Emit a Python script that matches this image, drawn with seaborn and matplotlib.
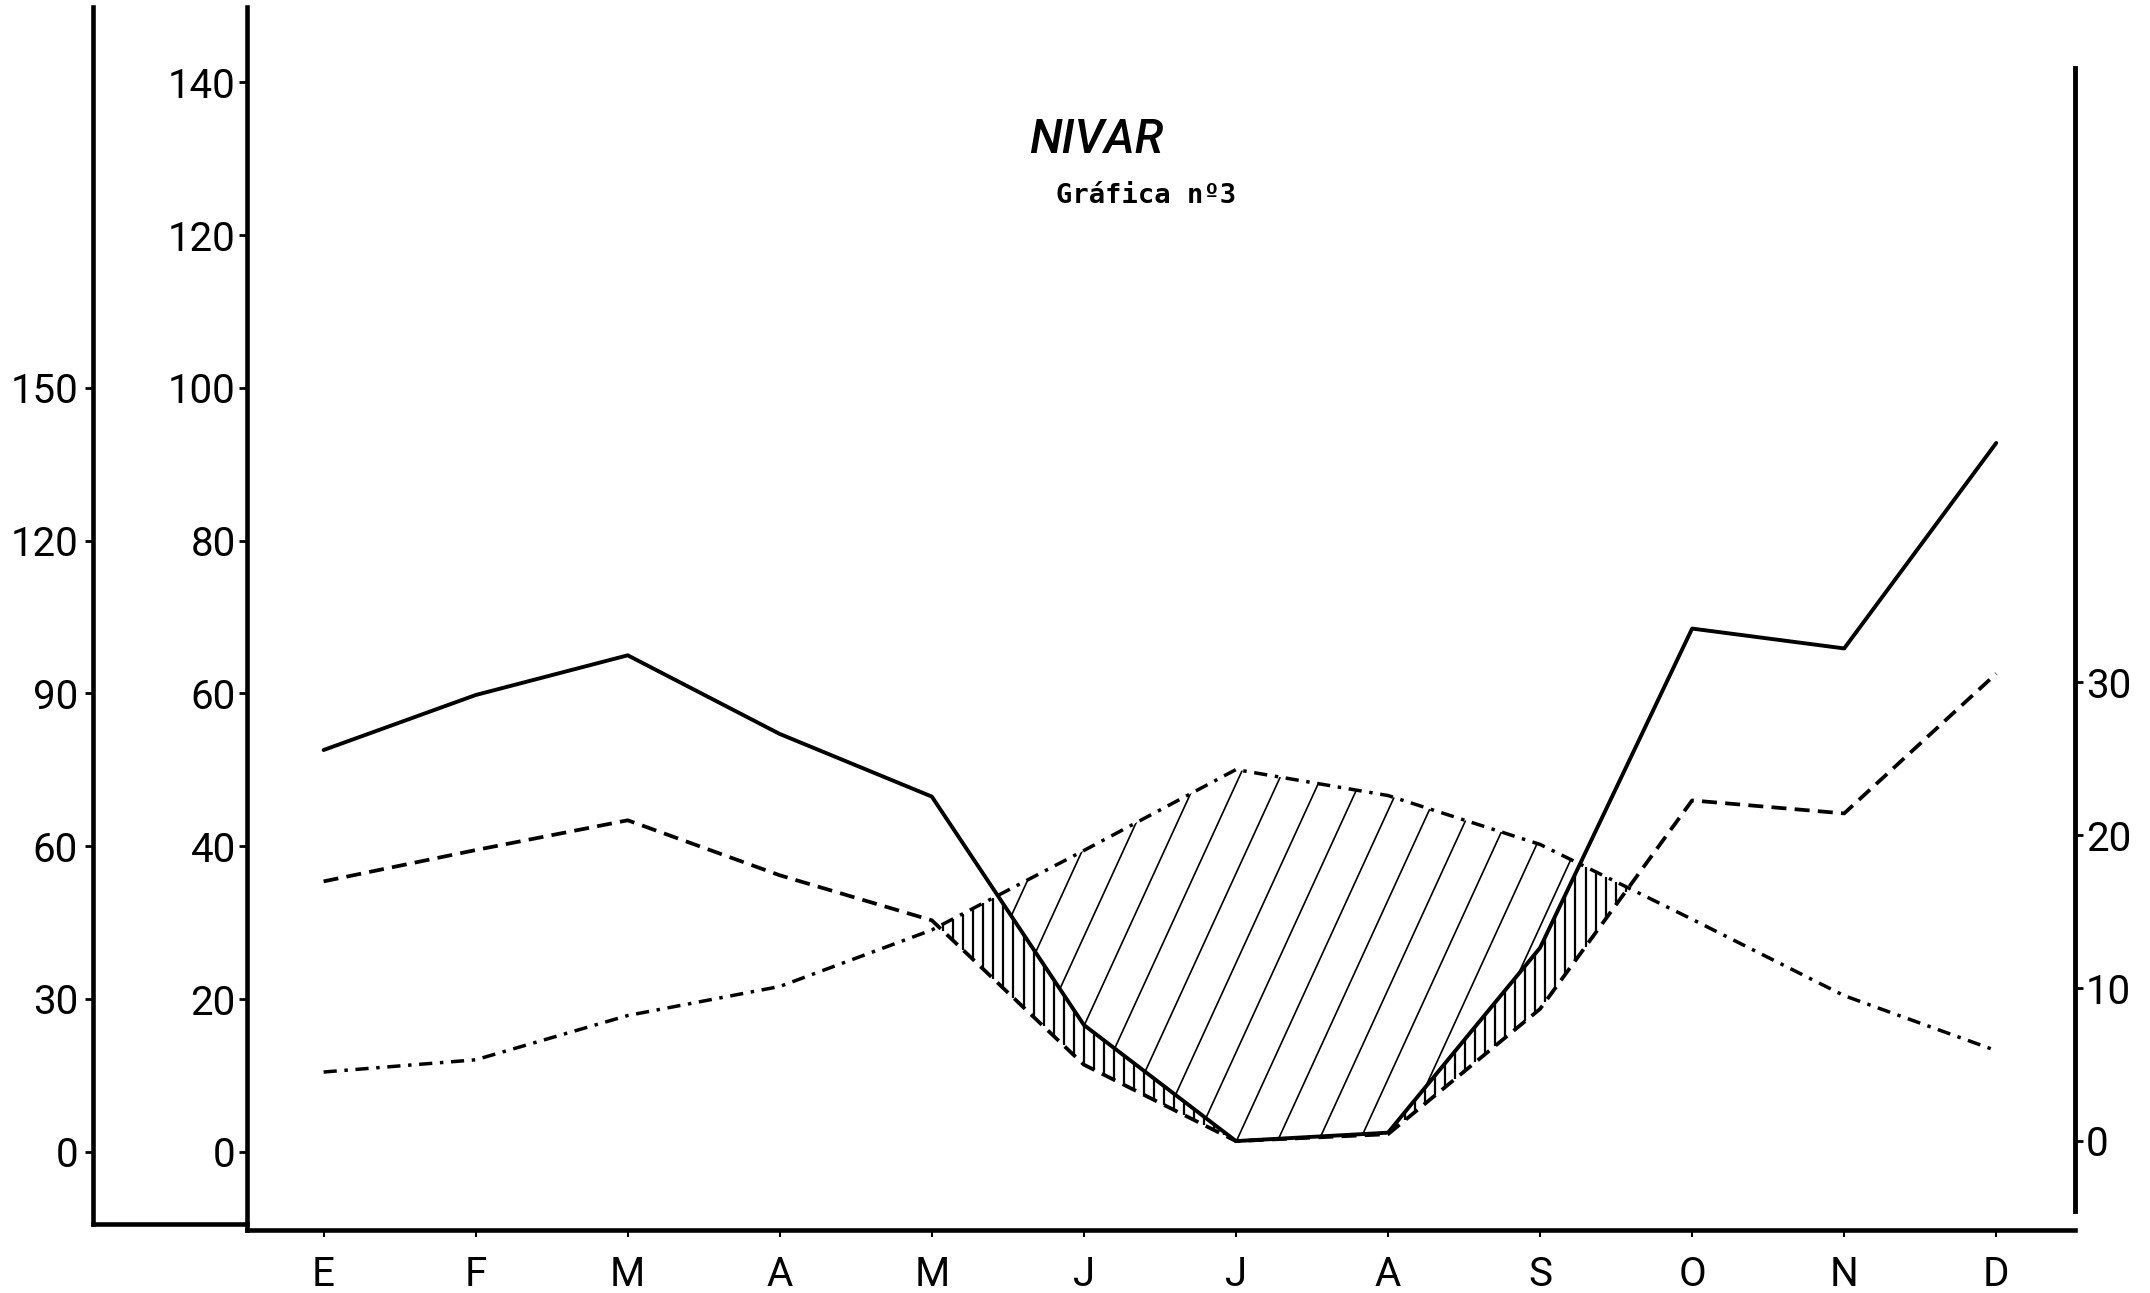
import numpy as np
import pandas as pd
import matplotlib
matplotlib.use("Agg")
import matplotlib.pyplot as plt
import seaborn as sns
from matplotlib.patches import Polygon
from matplotlib.collections import LineCollection

# ---------------- data ----------------
meses = ['E', 'F', 'M', 'A', 'M', 'J', 'J', 'A', 'S', 'O', 'N', 'D']
precipitacion = [52.6, 59.8, 65.0, 54.7, 46.5, 16.6, 1.4, 2.5, 26.7, 68.5, 65.9, 92.8]
serie_discontinua = [35.4, 39.5, 43.4, 36.2, 30.3, 11.4, 1.4, 2.3, 18.7, 46.0, 44.3, 62.6]
temperatura = [4.5, 5.3, 8.2, 10.1, 13.8, 19.0, 24.3, 22.6, 19.4, 14.5, 9.5, 5.9]
ticks_izq = [0, 30, 60, 90, 120, 150]
ticks_prec = [0, 20, 40, 60, 80, 100, 120, 140]
ticks_temp = [0, 10, 20, 30]
titulo = 'NIVAR'
subtitulo = 'Gráfica nº3'

T0 = 1.44          # position of 0 ºC on the precipitation scale (P = 2T + T0)
P_LIM = (-10.23, 149.9)
FS = 29

# ---------------- style ----------------
sns.set_theme(style='white', rc={
    'axes.edgecolor': 'black', 'text.color': 'black', 'xtick.color': 'black',
    'ytick.color': 'black', 'axes.labelcolor': 'black'})
plt.rcParams['font.family'] = ['Roboto', 'DejaVu Sans']

fig = plt.figure(figsize=(21.5, 12.93), dpi=100)
ax = fig.add_axes([0.1148, 0.0488, 0.9649 - 0.1148, 0.9947 - 0.0488])

df = pd.DataFrame({'x': np.arange(len(meses)), 'P': precipitacion,
                   'D': serie_discontinua, 'T': temperatura})

sns.lineplot(data=df, x='x', y='P', ax=ax, color='black', lw=2.8, zorder=5)
sns.lineplot(data=df, x='x', y='D', ax=ax, color='black', lw=2.7,
             linestyle=(0, (4.0, 2.2)), zorder=5)

ax2 = ax.twinx()
sns.lineplot(data=df, x='x', y='T', ax=ax2, color='black', lw=2.5,
             linestyle=(0, (3.8, 2.2, 1.0, 2.2)), zorder=5)

ax.set_xlim(-0.505, 11.515)
ax.set_ylim(*P_LIM)
ax2.set_ylim((P_LIM[0] - T0) / 2, (P_LIM[1] - T0) / 2)
ax.set_xlabel(''); ax.set_ylabel(''); ax2.set_ylabel('')

# ---------------- hatching ----------------
x = df['x'].to_numpy(float)
xf = np.linspace(0, 11, 4401)
Pf = np.interp(xf, x, df['P'])
Df = np.interp(xf, x, df['D'])
Tf = np.interp(xf, x, 2 * df['T'].to_numpy() + T0)

# diagonal hatch: between precipitation and temperature where T above P
m = Tf > Pf
xs = xf[m]
verts = list(zip(xs, Tf[m])) + list(zip(xs[::-1], Pf[m][::-1]))
poly = Polygon(verts, closed=True, facecolor='none', edgecolor='none',
               transform=ax.transData)
ax.add_patch(poly)
slope = 43.4  # data units of P per month (~65 deg on screen)
segs = []
for x0 in np.arange(2.0, 10.0, 0.27):
    segs.append([(x0, -20), (x0 + 180 / slope, 160)])
lc = LineCollection(segs, colors='black', linewidths=1.2, zorder=3)
ax.add_collection(lc)
lc.set_clip_path(poly)

# vertical hatch: between dashed series and min(P, T) where T above dashed
m2 = Tf > Df
xv_all = xf[m2]
xv = np.arange(xv_all.min() + 0.03, xv_all.max(), 0.066)
lo = np.interp(xv, x, df['D'])
up = np.minimum(np.interp(xv, x, df['P']),
                np.interp(xv, x, 2 * df['T'].to_numpy() + T0))
up = np.maximum(up, lo)
ax.vlines(xv, lo, up, colors='black', linewidth=1.6, zorder=3)

# ---------------- axes styling ----------------
ax.set_xticks(range(len(meses)))
ax.set_xticklabels(meses)
ax.tick_params(axis='x', direction='out', length=5, width=1.5, pad=13,
               labelsize=FS, bottom=True)
ax.set_yticks(ticks_prec)
ax.tick_params(axis='y', direction='out', length=6, width=2, pad=2,
               labelsize=FS, left=True)
for s in ['top', 'right']:
    ax.spines[s].set_visible(False)
for s in ['left', 'bottom']:
    ax.spines[s].set_linewidth(3.3)

for s in ['top', 'left', 'bottom']:
    ax2.spines[s].set_visible(False)
ax2.spines['right'].set_linewidth(3.5)
ax2.spines['right'].set_bounds(-4.6, 70.2)
ax2.set_yticks(ticks_temp)
ax2.tick_params(axis='y', direction='out', length=6, width=2, pad=2,
                labelsize=FS, right=True)

axL = fig.add_axes([0.04337, 0.0530, 0.1148 - 0.04337, 0.9947 - 0.0530])
axL.set_facecolor('none')
axL.set_ylim(-14.27, 224.8)
axL.set_xticks([])
axL.set_yticks(ticks_izq)
axL.tick_params(axis='y', direction='out', length=6, width=2, pad=5,
                labelsize=FS, left=True)
for s in ['top', 'right']:
    axL.spines[s].set_visible(False)
for s in ['left', 'bottom']:
    axL.spines[s].set_linewidth(3.3)

# ---------------- titles ----------------
fig.text(0.510, 0.8817, titulo, ha='center', va='baseline', fontsize=34,
         style='italic', fontweight='medium')
fig.text(0.533, 0.843, subtitulo, ha='center', va='baseline', fontsize=19.5,
         family=['DejaVu Sans Mono'], fontweight='bold')

fig.savefig('out.png', dpi=100)
